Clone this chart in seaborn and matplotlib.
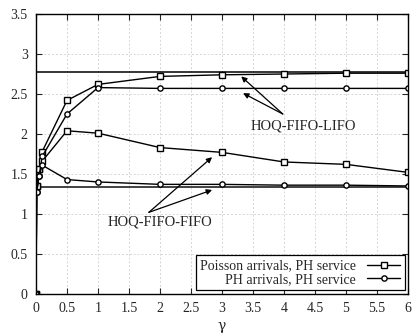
import matplotlib
matplotlib.use("Agg")
import matplotlib.pyplot as plt
import seaborn as sns
import pandas as pd

gamma = [0, 0.01, 0.05, 0.1, 0.5, 1, 2, 3, 4, 5, 6]
poisson_lifo = [0, 1.35, 1.56, 1.78, 2.42, 2.62, 2.72, 2.74, 2.75, 2.76, 2.76]
ph_lifo = [0, 1.27, 1.48, 1.72, 2.25, 2.58, 2.57, 2.57, 2.57, 2.57, 2.57]
poisson_fifo = [0, 1.35, 1.56, 1.66, 2.04, 2.01, 1.83, 1.77, 1.65, 1.62, 1.52]
ph_fifo = [0, 1.27, 1.48, 1.61, 1.43, 1.40, 1.37, 1.37, 1.36, 1.36, 1.35]
limit_lifo = 2.77
limit_fifo = 1.34
xticks = [0, 0.5, 1, 1.5, 2, 2.5, 3, 3.5, 4, 4.5, 5, 5.5, 6]
yticks = [0, 0.5, 1, 1.5, 2, 2.5, 3, 3.5]

sns.set_style("ticks")
plt.rcParams['font.family'] = ['Liberation Serif', 'DejaVu Serif']

fig = plt.figure(figsize=(4.14, 3.34), dpi=100)
ax = fig.add_axes([0.087, 0.12, 0.8985, 0.838])

def frame(y, name, group):
    return pd.DataFrame({"gamma": gamma, "value": y, "series": name, "group": group})

df = pd.concat([
    frame(poisson_lifo, "Poisson arrivals, PH service", "a"),
    frame(poisson_fifo, "Poisson arrivals, PH service", "b"),
    frame(ph_lifo, "PH arrivals, PH service", "c"),
    frame(ph_fifo, "PH arrivals, PH service", "d"),
])

styles = {"a": ("s", 4.2, "Poisson arrivals, PH service"),
          "b": ("s", 4.2, None),
          "c": ("o", 3.8, "PH arrivals, PH service"),
          "d": ("o", 3.8, None)}
for g, (m, ms, lab) in styles.items():
    sub = df[df.group == g]
    sns.lineplot(data=sub, x="gamma", y="value", ax=ax, color="black", lw=1,
                 marker=m, markersize=ms, markerfacecolor="white",
                 markeredgecolor="black", markeredgewidth=1,
                 label=lab, legend=False, sort=False)

ax.axhline(limit_lifo, color="black", lw=1.1, zorder=1)
ax.axhline(limit_fifo, color="#333333", lw=1.3, zorder=1)

ax.set_xlim(0, 6)
ax.set_ylim(0, 3.5)
ax.set_xticks(xticks)
ax.set_xticklabels([f"{t:g}" for t in xticks])
ax.set_yticks(yticks)
ax.set_yticklabels([f"{t:g}" for t in yticks])
ax.tick_params(direction="in", top=True, right=True, labelsize=10, length=4, width=0.8, pad=6)
ax.grid(True, ls=(0, (2, 2)), color="#d5d5d5", lw=0.7)
for s in ax.spines.values():
    s.set_color("black")
    s.set_linewidth(1)
ax.set_xlabel("γ", fontsize=10, family=['DejaVu Serif'], labelpad=3)
ax.set_ylabel("")

arrow = dict(arrowstyle="-|>", color="black", lw=0.9, mutation_scale=8, shrinkA=0, shrinkB=0)
ax.text(4.32, 2.10, "HOQ-FIFO-LIFO", ha="center", va="center", fontsize=10.5)
ax.annotate("", xy=(3.31, 2.72), xytext=(3.98, 2.25), arrowprops=arrow)
ax.annotate("", xy=(3.34, 2.51), xytext=(3.98, 2.25), arrowprops=arrow)
ax.text(2.0, 0.90, "HOQ-FIFO-FIFO", ha="center", va="center", fontsize=10.5)
ax.annotate("", xy=(2.84, 1.71), xytext=(1.82, 1.02), arrowprops=arrow)
ax.annotate("", xy=(2.84, 1.30), xytext=(1.82, 1.02), arrowprops=arrow)

leg = ax.legend(loc="lower right", markerfirst=False, frameon=True, fancybox=False,
                edgecolor="black", framealpha=1, fontsize=10, borderpad=0.3,
                labelspacing=0.05, handlelength=2.4, borderaxespad=0.25)
leg.get_frame().set_linewidth(0.9)
for t in leg.get_texts():
    t.set_ha("right")
leg._legend_box.align = "right"

fig.savefig("out.png", dpi=100)
